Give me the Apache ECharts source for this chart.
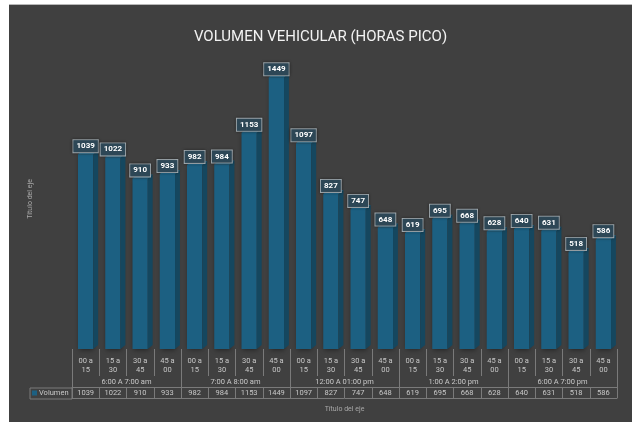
<!DOCTYPE html>
<html>
<head>
<meta charset="utf-8">
<script src="https://cdn.jsdelivr.net/npm/echarts@6/dist/echarts.min.js"></script>
<style>
html,body{margin:0;padding:0;background:#fff;width:632px;height:422px;overflow:hidden;}
#c{position:absolute;left:9px;top:4px;width:623px;height:418px;background:#404040;border-top:1px solid #b8b8b8;box-sizing:border-box;}
</style>
</head>
<body>
<div id="c"></div>
<script>
const categories = ["00 a\n15","15 a\n30","30 a\n45","45 a\n00","00 a\n15","15 a\n30","30 a\n45","45 a\n00","00 a\n15","15 a\n30","30 a\n45","45 a\n00","00 a\n15","15 a\n30","30 a\n45","45 a\n00","00 a\n15","15 a\n30","30 a\n45","45 a\n00"];
const groups = ["6:00 A 7:00 am","7:00 A 8:00 am","12:00 A 01:00 pm","1:00 A 2:00 pm","6:00 A 7:00 pm"];
const volumen = [1039,1022,910,933,982,984,1153,1449,1097,827,747,648,619,695,668,628,640,631,518,586];
const seriesName = "Volumen";
const titleText = "VOLUMEN VEHICULAR (HORAS PICO)";
const axisTitle = "Título del eje";

const FRONT = '#1c6082', SIDE = '#15475f', TOP = '#1f6b90';
const TXT = '#c8c8c8', LINE = '#7a7a7a';
const FONT = 'Roboto';

const chart = echarts.init(document.getElementById('c'), null, {renderer:'canvas'});
const option = {
  backgroundColor: '#404040',
  animation: false,
  title: {text: titleText, left: 'center', top: 20,
    textStyle: {color:'#f2f2f2', fontSize: 15, fontWeight: 'normal', fontFamily: FONT}},
  legend: {data:[{name: seriesName, icon:'rect'}], left: 23, top: 384, padding: 0, itemWidth: 5, itemHeight: 5, itemGap: 2,
    textStyle:{color: TXT, fontSize: 7.5, fontFamily: FONT, padding:[0,0,0,-3]}},
  grid: {left: 63, right: 15, top: 44, bottom: 73},
  yAxis: {type:'value', min: 0, max: 1600, axisLabel:{show:false}, splitLine:{show:false}, axisLine:{show:false}, axisTick:{show:false},
    name: axisTitle, nameLocation:'middle', nameRotate: 90, nameGap: 38,
    nameTextStyle:{color:'#a8a8a8', fontSize: 7, fontFamily: FONT}},
  xAxis: [
    {type:'category', data: categories, position:'bottom', axisLine:{show:false},
      axisTick:{show:true, length: 27, interval: 0, lineStyle:{color: LINE}},
      axisLabel:{interval: 0, color: TXT, fontSize: 7.5, lineHeight: 9.5, margin: 7, fontFamily: FONT}},
    {type:'category', data: groups, position:'bottom', axisLine:{show:false},
      axisTick:{show:true, length: 38, interval: 0, lineStyle:{color: LINE}},
      axisLabel:{interval: 0, color: TXT, fontSize: 7.5, margin: 29, fontFamily: FONT}},
    {type:'category', data: volumen.map(String), position:'bottom', offset: 38,
      axisLine:{show:true, lineStyle:{color: LINE}},
      axisTick:{show:true, length: 11, interval: 0, lineStyle:{color: LINE}},
      axisLabel:{interval: 0, color: TXT, fontSize: 7.5, margin: 2, fontFamily: FONT}},
    {type:'category', data: categories, position:'bottom', offset: 49,
      axisLine:{show:true, lineStyle:{color: LINE}}, axisTick:{show:false}, axisLabel:{show:false},
      name: axisTitle, nameLocation:'middle', nameGap: 8,
      nameTextStyle:{color:'#a8a8a8', fontSize: 7, fontFamily: FONT}}
  ],
  graphic: [
    {type:'rect', shape:{x: 21, y: 383, width: 42, height: 11}, style:{fill:'none', stroke: LINE, lineWidth: 1}, silent: true}
  ],
  series: [{
    type: 'custom', name: seriesName, xAxisIndex: 0, yAxisIndex: 0,
    itemStyle: {color: FRONT},
    data: volumen.map((v, i) => [i, v]),
    encode: {x: 0, y: 1},
    renderItem: function(params, api){
      const i = api.value(0), v = api.value(1);
      const base = api.coord([i, 0]);
      const top = api.coord([i, v]);
      const bw = api.size([1, 0])[0];
      const fw = bw * 0.56, dx = bw * 0.18, dy = 4;
      const x0 = top[0] - fw / 2;
      return {type:'group', children:[
        {type:'rect', shape:{x: x0, y: top[1], width: fw, height: base[1]-top[1]},
          style:{fill: FRONT, shadowColor:'rgba(0,0,0,0.45)', shadowBlur: 5, shadowOffsetX: 1, shadowOffsetY: 1}},
        {type:'polygon', shape:{points:[[x0+fw, top[1]],[x0+fw+dx, top[1]-dy],[x0+fw+dx, base[1]-dy],[x0+fw, base[1]]]},
          style:{fill: SIDE}},
        {type:'polygon', shape:{points:[[x0, top[1]],[x0+dx, top[1]-dy],[x0+fw+dx, top[1]-dy],[x0+fw, top[1]]]},
          style:{fill: TOP}},
        {type:'text', x: top[0], y: top[1]-2,
          style:{text: String(v), fill:'#ffffff', font:'bold 8px ' + FONT, align:'center', verticalAlign:'bottom',
            backgroundColor:'#2d4756', borderColor:'#a3adb3', borderWidth: 1, padding:[2,3,2,3],
            shadowColor:'rgba(0,0,0,0.4)', shadowBlur: 3}}
      ]};
    }
  }]
};
chart.setOption(option);
</script>
</body>
</html>
